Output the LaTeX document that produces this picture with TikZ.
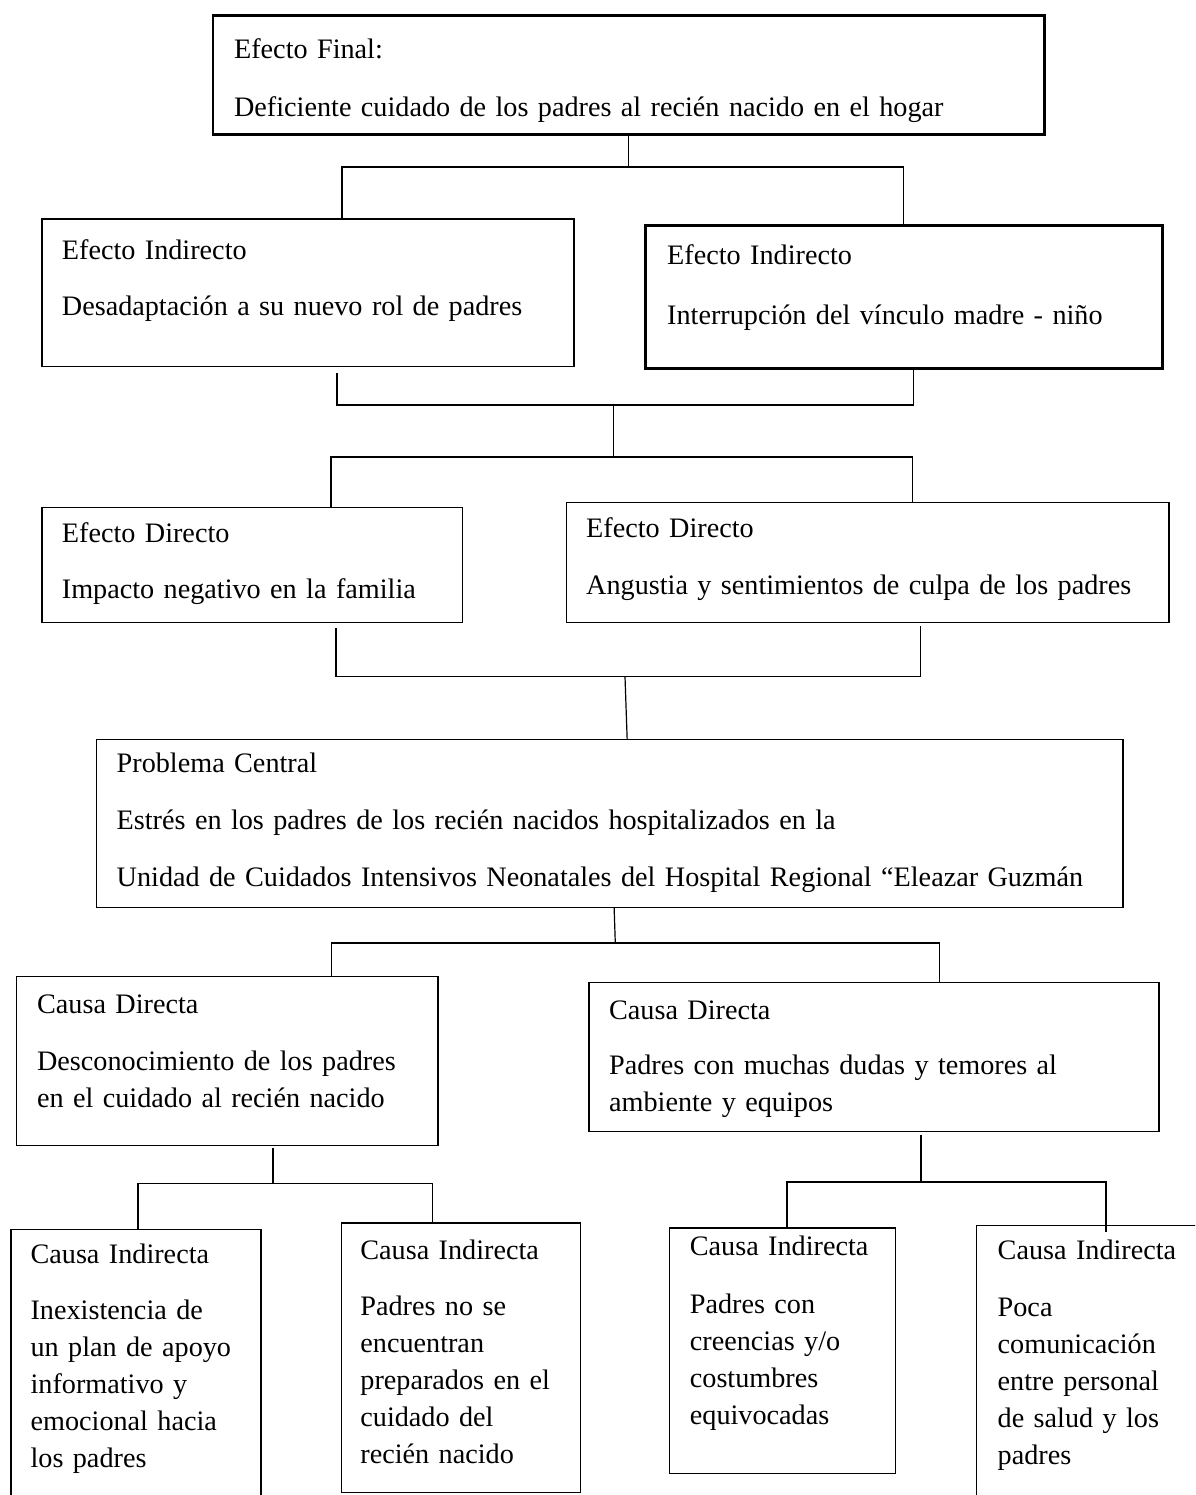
\documentclass[tikz,border=0pt]{standalone}
\usepackage{fontspec}
\setmainfont{Liberation Serif}
\usepackage{tikz}

\tikzset{
  caja/.style={draw, line width=0.7pt, anchor=north west, align=left, inner ysep=0pt,
    font=\fontsize{14.1pt}{18.5pt}\selectfont},
  gruesa/.style={caja, line width=1.4pt},
  linea/.style={line width=0.6pt}
}

\begin{document}
\begin{tikzpicture}[x=0.5pt,y=-0.5pt]
  \path[use as bounding box, clip] (0,0) rectangle (1195,1495);

  % efectos
  \node[gruesa, inner xsep=10.55pt, text width=394.5pt, text height=21.5pt, text depth=37.7pt] (final) at (211.6,14.3)
    {Efecto Final:\\[10.35pt]Deficiente cuidado de los padres al recién nacido en el hogar};
  \node[caja, inner xsep=9.95pt, text width=246.1pt, text height=20pt, text depth=53.85pt] (ei1) at (41.3,218.3)
    {Efecto Indirecto\\[9.85pt]Desadaptación a su nuevo rol de padres};
  \node[gruesa, inner xsep=10.9pt, text width=236.9pt, text height=19.5pt, text depth=52pt] (ei2) at (644,224.3)
    {Efecto Indirecto\\[11.5pt]Interrupción del vínculo madre - niño};
  \node[caja, inner xsep=9.95pt, text width=190.2pt, text height=17.5pt, text depth=40pt] (ed1) at (41.3,506.7)
    {Efecto Directo\\[9.3pt]Impacto negativo en la familia};
  \node[caja, inner xsep=9.95pt, text width=281.45pt, text height=17.35pt, text depth=42.65pt] (ed2) at (565.6,502)
    {Efecto Directo\\[10.15pt]Angustia y sentimientos de culpa de los padres};

  % problema
  \node[caja, inner xsep=10.15pt, text width=493.05pt, text height=16.35pt, text depth=67.5pt] (pc) at (95.7,739)
    {Problema Central\\[10.1pt]Estrés en los padres de los recién nacidos hospitalizados en la\\[10.1pt]Unidad de Cuidados Intensivos Neonatales del Hospital Regional “Eleazar Guzmán};

  % causas
  \node[caja, inner xsep=10.2pt, text width=190.3pt, text height=18.5pt, text depth=66pt] (cd1) at (16,976)
    {Causa Directa\\[10pt]Desconocimiento de los padres\\en el cuidado al recién nacido};
  \node[caja, inner xsep=10.1pt, text width=264.85pt, text height=18.3pt, text depth=56.2pt] (cd2) at (588.2,981.7)
    {Causa Directa\\[9pt]Padres con muchas dudas y temores al\\ambiente y equipos};
  \node[caja, inner xsep=9.8pt, text width=105.35pt, text height=16.85pt, text depth=123.65pt] (ci1) at (10.3,1229)
    {Causa Indirecta\\[9.3pt]Inexistencia de\\un plan de apoyo\\informativo y\\emocional hacia\\los padres};
  \node[caja, inner xsep=9.55pt, text width=100.5pt, text height=18pt, text depth=116.7pt] (ci2) at (340.6,1222.3)
    {Causa Indirecta\\[9.85pt]Padres no se\\encuentran\\preparados en el\\cuidado del\\recién nacido};
  \node[caja, inner xsep=10.15pt, text width=92.6pt, text height=13.85pt, text depth=108.85pt] (ci3) at (668.9,1227.3)
    {Causa Indirecta\\[10.35pt]Padres con\\creencias y/o\\costumbres\\equivocadas};
  \node[caja, inner xsep=10.5pt, text width=98.5pt, text height=16.9pt, text depth=125.85pt] (ci4) at (976,1224.5)
    {Causa Indirecta\\[10.35pt]Poca\\comunicación\\entre personal\\de salud y los\\padres};

  % conectores
  \coordinate (b1l) at (342,167);   \coordinate (b1r) at (903.5,167);
  \coordinate (b2l) at (337,405);   \coordinate (b2m) at (613.4,405);  \coordinate (b2r) at (913.4,405);
  \coordinate (b3l) at (331,457);   \coordinate (b3r) at (912.6,457);
  \coordinate (b4l) at (336,676.5); \coordinate (b4m) at (625,676.5);  \coordinate (b4r) at (920.3,676.5);
  \coordinate (b5l) at (331.4,943); \coordinate (b5m) at (615.3,943);  \coordinate (b5r) at (939.4,943);
  \coordinate (b6l) at (138,1183.5); \coordinate (b6m) at (272.9,1183.5); \coordinate (b6r) at (432.5,1183.5);
  \coordinate (b7l) at (787,1182);  \coordinate (b7m) at (921,1182);   \coordinate (b7r) at (1106,1182);

  \draw[linea] (final.south) -- (final.south |- b1l);
  \draw[linea] (b1l |- ei1.north) -- (b1l) -- (b1r) -- (b1r |- ei2.north);
  \draw[linea] ([yshift=-2.85pt]b2l |- ei1.south) -- (b2l) -- (b2r) -- (b2r |- ei2.south);
  \draw[linea] (b2m) -- (b2m |- b3l);
  \draw[linea] (b3l |- ed1.north) -- (b3l) -- (b3r) -- (b3r |- ed2.north);
  \draw[linea] ([yshift=-2.5pt]b4l |- ed1.south) -- (b4l) -- (b4r) -- ([yshift=-1.5pt]b4r |- ed2.south);
  \draw[linea] (b4m) -- ([xshift=8.7pt]pc.north);
  \draw[linea] ([xshift=2.2pt]pc.south) -- (b5m);
  \draw[linea] (b5l |- cd1.north) -- (b5l) -- (b5r) -- (b5r |- cd2.north);
  \draw[linea] ([yshift=-1pt]b6m |- cd1.south) -- (b6m);
  \draw[linea] (b6l |- ci1.north) -- (b6l) -- (b6r) -- (b6r |- ci2.north);
  \draw[linea] ([yshift=-1.6pt]b7m |- cd2.south) -- (b7m);
  \draw[linea] (b7l |- ci3.north) -- (b7l) -- (b7r) -- ([yshift=-3.6pt]b7r |- ci4.north);
\end{tikzpicture}
\end{document}
